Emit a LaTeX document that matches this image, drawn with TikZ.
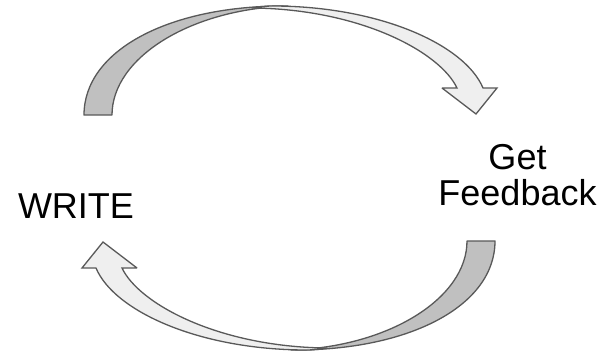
\documentclass[tikz,border=0pt]{standalone}
\usepackage{fontspec}
\setmainfont{Liberation Sans}
\definecolor{backface}{HTML}{C0C0C0}
\definecolor{frontface}{HTML}{EFEFEF}
\definecolor{edgegray}{HTML}{595959}
\begin{document}
\begin{tikzpicture}[x=1pt,y=-1pt,
  backpart/.style={fill=backface,draw=edgegray,line width=1.3pt,line join=round},
  frontpart/.style={fill=frontface,draw=edgegray,line width=1.3pt,line join=miter,miter limit=3},
  label/.style={font=\fontsize{36}{36}\selectfont,inner sep=0pt,align=center}]
\useasboundingbox[fill=white] (0,0) rectangle (610,353);
% one curved arrow, defined in the top position
\newcommand{\curvedarrowshape}{%
  \draw[backpart] (84,115) .. controls (84,50) and (170,5) .. (288,6)
     .. controls (190,9) and (112,58) .. (112,115) -- cycle;
  \draw[frontpart] (272,6) .. controls (380,6) and (465,45) .. (483,88)
     -- (497,88) -- (476,114) -- (442,88) -- (457,88)
     .. controls (440,52) and (360,9) .. (252,8)
     .. controls (258,7) and (265,6) .. (272,6) -- cycle;}
% top arrow: WRITE -> Get Feedback
\begin{scope}
\curvedarrowshape
\end{scope}
% bottom arrow: Get Feedback -> WRITE (top arrow turned by 180 degrees)
\begin{scope}[shift={(579,356)},xscale=-1,yscale=-1]
\curvedarrowshape
\end{scope}
\node[label,anchor=base] (write) at (76,218) {WRITE};
\node[label,anchor=north] (feedback) at (517.5,144) {Get\\Feedback};
\end{tikzpicture}
\end{document}
